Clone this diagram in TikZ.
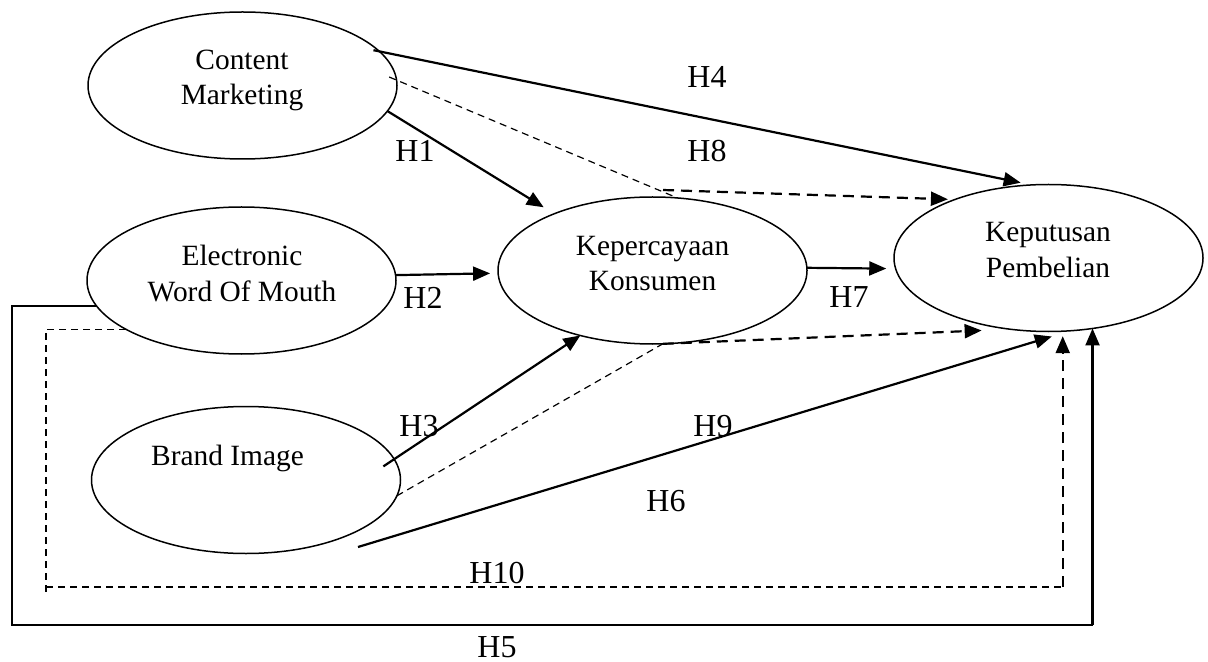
\documentclass[tikz,border=0pt]{standalone}
\usepackage{fontspec}
\setmainfont{Liberation Serif}
\usetikzlibrary{shapes.geometric,arrows.meta,calc}
\begin{document}
\begin{tikzpicture}[x=0.5pt,y=-0.5pt,
 ell/.style={draw, ellipse, line width=0.75pt, minimum width=154.5pt, minimum height=73.5pt, inner sep=0pt, outer sep=0pt},
 etxt/.style={font=\fontsize{14.7}{17.6}\selectfont, align=center, inner sep=0pt},
 lbl/.style={font=\fontsize{16}{19}\selectfont, inner sep=0pt},
 headtip/.style={-{Triangle[length=8.5pt,width=7pt]}},
 solidarr/.style={line width=1.1pt, headtip},
 thinline/.style={line width=0.65pt},
 thindash/.style={line width=0.6pt, dash pattern=on 3.5pt off 2.5pt},
 thickdash/.style={line width=1.1pt, dash pattern=on 5.5pt off 3.5pt},
]
\useasboundingbox (0,0) rectangle (1208,662);

% ellipses
\node[ell] (cm) at (242.5,85.5) {};
\node[ell] (ew) at (241.5,280.5) {};
\node[ell] (bi) at (246,480) {};
\node[ell] (kk) at (652.5,270.5) {};
\node[ell] (kp) at (1048.5,258) {};

% ellipse texts
\node[etxt] (tcm) at (242,80.5) {Content\\Marketing};
\node[etxt] (tew) at (242,273.5) {Electronic\\Word Of Mouth};
\node[etxt] (tbi) at (227.5,458) {Brand Image};
\node[etxt] (tkk) at (652.5,263.5) {Kepercayaan\\Konsumen};
\node[etxt] (tkp) at (1048,250) {Keputusan\\Pembelian};

% labels
\node[lbl] (l4) at (707,77) {H4};
\node[lbl] (l8) at (707,151) {H8};
\node[lbl] (l1) at (415,151) {H1};
\node[lbl] (l2) at (423,298) {H2};
\node[lbl] (l7) at (849,297) {H7};
\node[lbl] (l3) at (419,426) {H3};
\node[lbl] (l9) at (713,426) {H9};
\node[lbl] (l6) at (666,501) {H6};
\node[lbl] (l10) at (497,573) {H10};
\node[lbl] (l5) at (497,647) {H5};

% helper coordinates
\coordinate (h8m) at (663,190);
\coordinate (h6s) at (358,547);
\coordinate (h10a) at (46,596);
\coordinate (h10b) at (46,587);
\coordinate (h5a) at (12,625);

% H4
\draw[solidarr, shorten <=-3pt, shorten >=5.6pt] (cm.14) -- (kp.103);
% H8
\draw[thindash, shorten <=-4pt] (cm.2) -- (kk.71);
\draw[thickdash, headtip, shorten >=3.5pt] (h8m) -- (kp.148);
% H1
\draw[solidarr, shorten >=6.2pt] (cm.-10) -- (kk.150);
% H2
\draw[solidarr, shorten >=4pt] (ew.2) -- (kk.181);
% H7
\draw[solidarr, shorten >=4.7pt] (kk.1) -- (kp.184);
% H3
\draw[solidarr, shorten <=-6.5pt] (bi.8) -- (kk.222);
% H9
\draw[thindash] (bi.-6) -- (kk.-82);
\draw[thickdash, headtip, shorten >=14.5pt] (kk.-82) -- (kp.242);
% H6
\draw[solidarr, shorten >=9.9pt] (h6s) -- (kp.-73);
% H10
\draw[thindash] (ew.203) -| (h10a);
\draw[thindash] (h10b) -- (h10b -| kp.-79);
\draw[thickdash, headtip, shorten >=2.5pt] (h10b -| kp.-79) -- (kp.-79);
% H5
\draw[thinline] (ew.190) -| (h5a) -- (h5a -| kp.-58);
\draw[solidarr] (h5a -| kp.-58) -- (kp.-58);
\end{tikzpicture}
\end{document}
